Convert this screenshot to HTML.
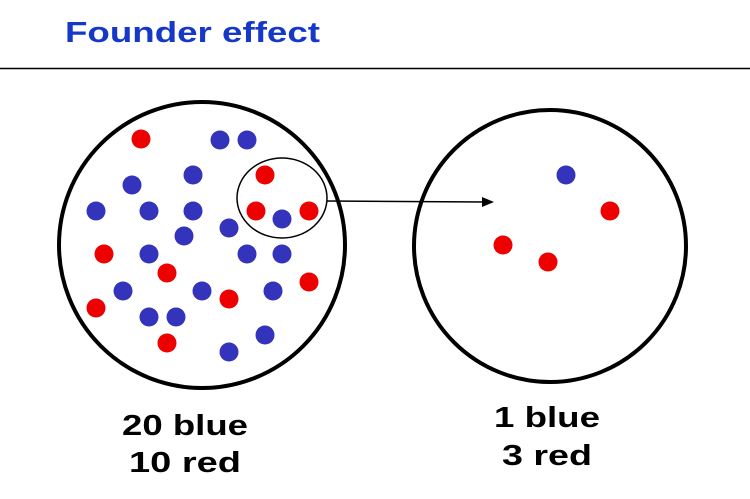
<!DOCTYPE html>
<html><head><style>body{margin:0;background:#fff}svg{display:block}</style></head><body>
<svg width="750" height="499" viewBox="0 0 750 499" xmlns="http://www.w3.org/2000/svg">
<text x="65" y="42" font-family="Liberation Sans, sans-serif" font-weight="bold" font-size="29" fill="#1538c8" textLength="255" lengthAdjust="spacingAndGlyphs">Founder effect</text>
<line x1="0" y1="68.5" x2="750" y2="68.5" stroke="#000" stroke-width="1.5"/>
<circle cx="202" cy="245" r="143" fill="none" stroke="#000" stroke-width="4"/>
<circle cx="550" cy="246" r="136" fill="none" stroke="#000" stroke-width="4"/>
<ellipse cx="282" cy="198" rx="45" ry="40" fill="none" stroke="#000" stroke-width="1.5"/>
<line x1="327" y1="201" x2="485" y2="202" stroke="#000" stroke-width="1.5"/>
<polygon points="494,202 482,197 482,207" fill="#000"/>
<g fill="#ee0000">
<circle cx="141" cy="139" r="9.5"/><circle cx="265" cy="175" r="9.5"/><circle cx="256" cy="211" r="9.5"/><circle cx="309" cy="211" r="9.5"/><circle cx="104" cy="254" r="9.5"/><circle cx="167" cy="273" r="9.5"/><circle cx="309" cy="282" r="9.5"/><circle cx="229" cy="299" r="9.5"/><circle cx="96" cy="308" r="9.5"/><circle cx="167" cy="343" r="9.5"/>
<circle cx="610" cy="211" r="9.5"/><circle cx="503" cy="245" r="9.5"/><circle cx="548" cy="262" r="9.5"/>
</g>
<g fill="#3333bb">
<circle cx="220" cy="140" r="9.5"/><circle cx="247" cy="140" r="9.5"/><circle cx="193" cy="175" r="9.5"/><circle cx="132" cy="185" r="9.5"/><circle cx="96" cy="211" r="9.5"/><circle cx="149" cy="211" r="9.5"/><circle cx="193" cy="211" r="9.5"/><circle cx="282" cy="219" r="9.5"/><circle cx="229" cy="228" r="9.5"/><circle cx="184" cy="236" r="9.5"/><circle cx="149" cy="254" r="9.5"/><circle cx="247" cy="254" r="9.5"/><circle cx="282" cy="254" r="9.5"/><circle cx="123" cy="291" r="9.5"/><circle cx="202" cy="291" r="9.5"/><circle cx="273" cy="291" r="9.5"/><circle cx="149" cy="317" r="9.5"/><circle cx="176" cy="317" r="9.5"/><circle cx="265" cy="335" r="9.5"/><circle cx="229" cy="352" r="9.5"/>
<circle cx="566" cy="175" r="9.5"/>
</g>
<g font-family="Liberation Sans, sans-serif" font-weight="bold" font-size="29" fill="#000" text-anchor="middle" lengthAdjust="spacingAndGlyphs">
<text x="185" y="435" textLength="126" lengthAdjust="spacingAndGlyphs">20 blue</text><text x="185" y="472" textLength="112" lengthAdjust="spacingAndGlyphs">10 red</text>
<text x="547" y="427" textLength="106" lengthAdjust="spacingAndGlyphs">1 blue</text><text x="547" y="465" textLength="90" lengthAdjust="spacingAndGlyphs">3 red</text>
</g>
</svg>
</body></html>
